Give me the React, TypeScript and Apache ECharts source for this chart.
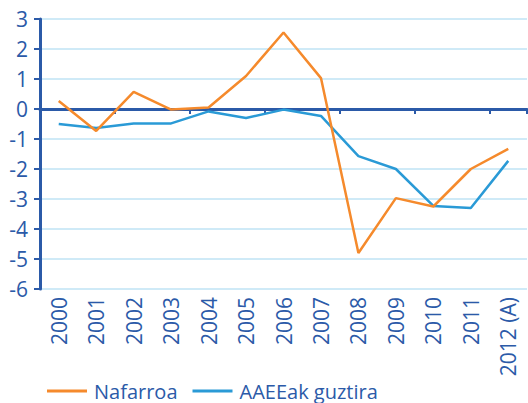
import React, { useEffect, useRef } from "react";
import * as echarts from "echarts";

const categories = ["2000", "2001", "2002", "2003", "2004", "2005", "2006", "2007", "2008", "2009", "2010", "2011", "2012 (A)"];
const nafarroa = [0.27, -0.73, 0.57, -0.02, 0.05, 1.1, 2.55, 1.03, -4.8, -2.97, -3.25, -2.0, -1.33];
const aaeeak = [-0.5, -0.63, -0.48, -0.48, -0.08, -0.3, -0.02, -0.23, -1.57, -2.0, -3.23, -3.3, -1.73];
const seriesNames = ["Nafarroa", "AAEEak guztira"];

const DARK = "#2b5aa8";
const ORANGE = "#f58a2c";
const BLUE = "#2a9ad6";
const GRID = "#bfe3f5";
const FONT = "Open Sans";

export default function App() {
  const ref = useRef<HTMLDivElement>(null);
  useEffect(() => {
    if (!ref.current) return;
    const chart = echarts.init(ref.current, null, { renderer: "svg" });
    chart.setOption({
      animation: false,
      grid: { left: 40, right: 1, top: 19, bottom: 114, containLabel: false },
      legend: {
        left: 42,
        top: 376,
        icon: "rect",
        itemWidth: 40,
        itemHeight: 3,
        itemGap: 15,
        textStyle: { color: DARK, fontSize: 20, fontFamily: FONT, padding: [0, 0, 0, 2] },
        data: seriesNames,
      },
      xAxis: [
        {
          type: "category",
          data: categories,
          boundaryGap: true,
          axisLine: { onZero: true, lineStyle: { color: DARK, width: 3 } },
          axisTick: { show: true, length: 5, lineStyle: { color: DARK, width: 2 } },
          axisLabel: { show: false },
          splitLine: { show: false },
        },
        {
          type: "category",
          data: categories,
          position: "bottom",
          boundaryGap: true,
          axisLine: { show: false, onZero: false },
          axisTick: { show: false },
          axisLabel: { rotate: 90, margin: 8, color: DARK, fontSize: 21, fontFamily: FONT },
          splitLine: { show: false },
        },
      ],
      yAxis: {
        type: "value",
        min: -6,
        max: 3,
        interval: 1,
        axisLine: { show: true, lineStyle: { color: DARK, width: 3 } },
        axisTick: { show: true, length: 6, lineStyle: { color: DARK, width: 2 } },
        axisLabel: { color: DARK, fontSize: 21, fontFamily: FONT, margin: 12 },
        splitLine: { show: true, lineStyle: { color: GRID, width: 1.5 } },
      },
      series: [
        {
          name: seriesNames[0],
          type: "line",
          data: nafarroa,
          symbol: "none",
          lineStyle: { color: ORANGE, width: 2.5 },
          itemStyle: { color: ORANGE },
          z: 3,
        },
        {
          name: seriesNames[1],
          type: "line",
          data: aaeeak,
          symbol: "none",
          lineStyle: { color: BLUE, width: 2.5 },
          itemStyle: { color: BLUE },
          z: 2,
        },
      ],
    });
    return () => chart.dispose();
  }, []);
  return (
    <div
      ref={ref}
      style={{ position: "fixed", left: 0, top: 0, width: 528, height: 403, background: "#fff" }}
    />
  );
}
